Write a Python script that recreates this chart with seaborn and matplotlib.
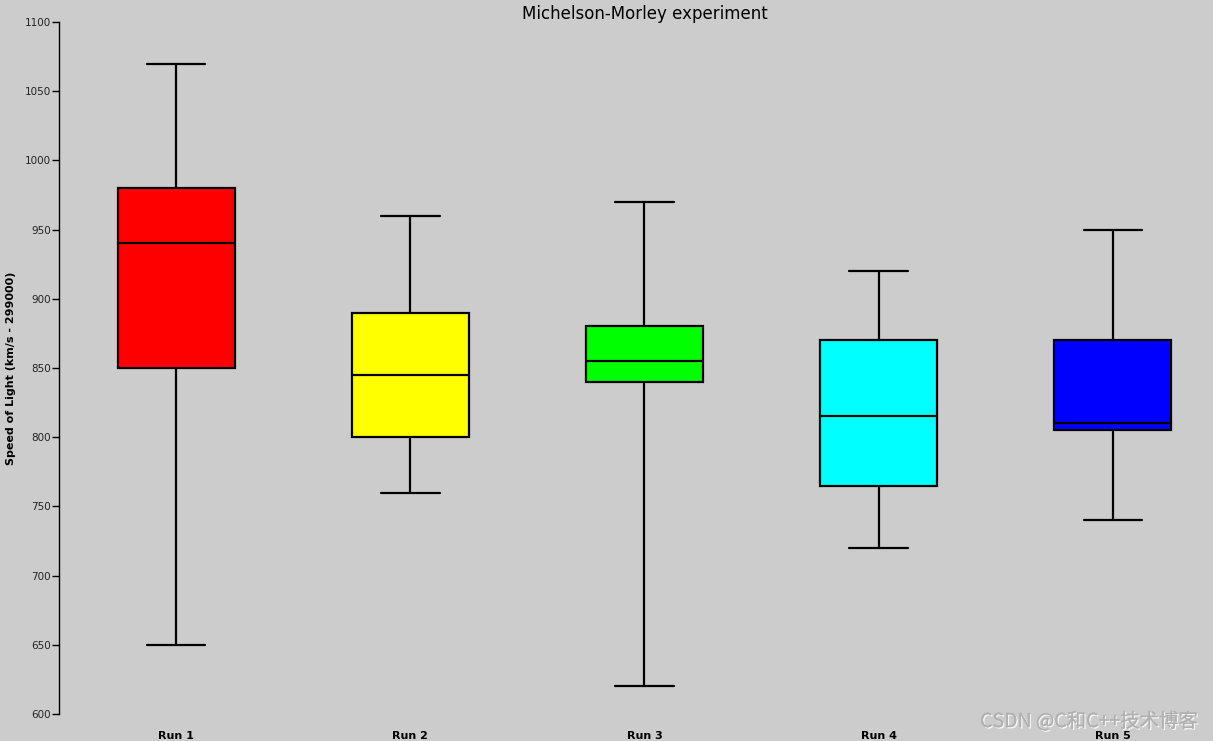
import pandas as pd
import numpy as np
import seaborn as sns
import matplotlib.pyplot as plt
import matplotlib.patheffects as pe

# five-number summaries (min, q1, median, q3, max)
runs = ['Run 1', 'Run 2', 'Run 3', 'Run 4', 'Run 5']
run1 = [650, 850, 940, 980, 1070]
run2 = [760, 800, 845, 890, 960]
run3 = [620, 840, 855, 880, 970]
run4 = [720, 765, 815, 870, 920]
run5 = [740, 805, 810, 870, 950]
box_colors = ['#ff0000', '#ffff00', '#00ff00', '#00ffff', '#0000ff']

df = pd.DataFrame({
    'run': np.repeat(runs, 5),
    'speed': run1 + run2 + run3 + run4 + run5,
})

sns.set_style('white')
plt.rcParams['font.family'] = ['DejaVu Sans']
bg = '#cccccc'

fig = plt.figure(figsize=(12.13, 7.41), dpi=100, facecolor=bg)
ax = fig.add_axes([59 / 1213, 27 / 741, 1171 / 1213, 692 / 741])
ax.set_facecolor(bg)

sns.boxplot(data=df, x='run', y='speed', hue='run', palette=box_colors,
            legend=False, width=0.5, whis=(0, 100), linecolor='black',
            linewidth=1.6, saturation=1, ax=ax)

ax.set_xlim(-0.5, 4.5)
ax.set_ylim(600, 1100)
ax.set_yticks(np.arange(600, 1101, 50))
ax.tick_params(axis='y', direction='out', length=5, width=1, labelsize=7.5,
               colors='black', labelcolor='#222222', left=True, pad=1)
ax.tick_params(axis='x', length=0, labelsize=8, pad=12, labelcolor='black')
for lab in ax.get_xticklabels():
    lab.set_fontweight('bold')

for side in ['top', 'right', 'bottom']:
    ax.spines[side].set_visible(False)
ax.spines['left'].set_color('black')
ax.spines['left'].set_linewidth(1)

ax.set_xlabel('')
ax.set_ylabel('Speed of Light (km/s - 299000)', fontsize=8,
              fontweight='bold', color='black')
ax.yaxis.set_label_coords(-43 / 1171, 0.5)
ax.set_title('Michelson-Morley experiment', fontsize=12, pad=2,
             color='black')

# watermark
fig.text(0.988, 0.012, 'CSDN @C和C++技术博客', ha='right', va='bottom',
         fontsize=14, color='#b0b0b0',
         family=['Noto Sans CJK SC', 'DejaVu Sans'],
         path_effects=[pe.withSimplePatchShadow(offset=(1, -1),
                                                shadow_rgbFace='#f6f6f6',
                                                alpha=1),
                       pe.Normal()])

fig.savefig('out.png', dpi=100, facecolor=bg)
